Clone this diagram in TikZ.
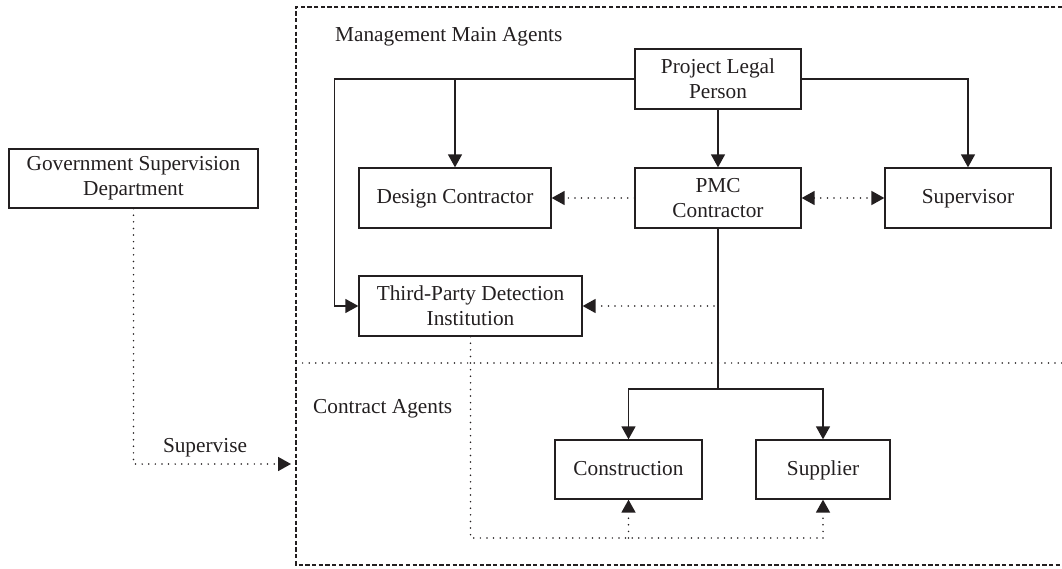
\documentclass[tikz,border=0pt]{standalone}
\usepackage{fontspec}
\setmainfont{Liberation Serif}
\usetikzlibrary{arrows.meta}
\definecolor{ink}{RGB}{35,31,32}
\begin{document}
\begin{tikzpicture}[x=1pt,y=-1pt,
  font=\fontsize{21.3}{25}\selectfont,
  every node/.style={text=ink},
  agent/.style={draw=ink, line width=1.3pt, rectangle, align=center, inner sep=0pt},
  oneline/.style={text height=15pt, text depth=3.5pt},
  solidline/.style={draw=ink, line width=1.4pt},
  dotline/.style={draw=ink, line width=1.7pt, line cap=round, dash pattern=on 0pt off 6.6pt},
  tip/.style={-{Triangle[length=13pt,width=14pt]}},
  frameline/.style={draw=ink, line width=2.5pt, dash pattern=on 4.3pt off 2.4pt},
  lbl/.style={anchor=base west, inner sep=0pt}]
\useasboundingbox (0,0) rectangle (1062,569);

% outer frame and the divider between the two groups of agents
\draw[frameline] (1062,7) -- (296,7) -- (296,565) -- (1062,565);
\draw[dotline] (296,363) -- (1062,363);

% group labels
\node[lbl] (mma) at (335,42) {Management Main Agents};
\node[lbl] (ca) at (313,413) {Contract Agents};

% agents
\node[agent, minimum width=249pt, minimum height=59pt] (gov) at (133.5,178.5) {Government Supervision\\Department};
\node[agent, minimum width=166pt, minimum height=60pt] (plp) at (718,79) {Project Legal\\Person};
\node[agent, oneline, minimum width=192pt, minimum height=60pt] (dc) at (455,198) {Design Contractor};
\node[agent, minimum width=166pt, minimum height=60pt] (pmc) at (718,198) {PMC\\Contractor};
\node[agent, oneline, minimum width=166pt, minimum height=60pt] (sup) at (968,198) {Supervisor};
\node[agent, minimum width=223pt, minimum height=60pt] (tpd) at (470.5,306) {Third-Party Detection\\Institution};
\node[agent, oneline, minimum width=147pt, minimum height=59pt] (con) at (628.5,469.5) {Construction};
\node[agent, oneline, minimum width=134pt, minimum height=59pt] (spl) at (823,469.5) {Supplier};

% control lines from the project legal person
\draw[solidline, tip] (plp.west) -- ++(-300,0) |- (tpd.west);
\draw[solidline, tip] (plp.west -| dc.north) -- (dc.north);
\draw[solidline, tip] (plp.south) -- (pmc.north);
\draw[solidline, tip] (plp.east) -| (sup.north);

% PMC coordination
\draw[dotline, tip] (pmc.west) -- (dc.east);
\draw[dotline, {Triangle[length=13pt,width=14pt]}-{Triangle[length=13pt,width=14pt]}] (pmc.east) -- (sup.west);
\draw[solidline] (pmc.south) -- (718,389) coordinate (split);
\draw[solidline, tip] (split) -| (con.north);
\draw[solidline, tip] (split) -| (spl.north);
\draw[dotline, tip] (pmc.south |- tpd.east) ++(-4,0) -- (tpd.east);

% detection institution to the contract agents
\draw[dotline] (tpd.south) |- (spl.south |- 0,538) coordinate (bend);
\draw[dotline, tip] (bend) -- (spl.south);
\draw[dotline, tip] (con.south |- bend) -- (con.south);

% government supervision
\coordinate (frameleft) at (291,464);
\draw[dotline, tip] (gov.south) |- (frameleft);
\node[anchor=base, inner sep=0pt] (svlabel) at (205,452) {Supervise};
\end{tikzpicture}
\end{document}
